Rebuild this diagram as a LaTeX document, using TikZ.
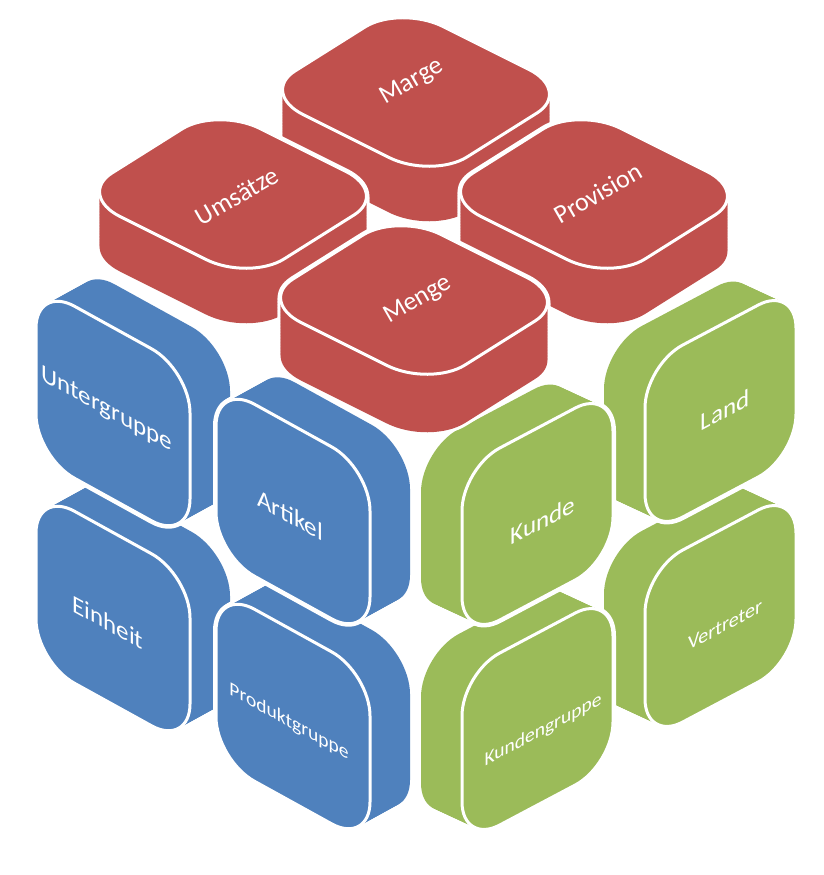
\documentclass[tikz,border=0pt]{standalone}
\usepackage{fontspec}
\setmainfont{Carlito}
\definecolor{cred}{HTML}{C0504D}
\definecolor{cblue}{HTML}{4F81BD}
\definecolor{cgreen}{HTML}{9BBB59}
\tikzset{
 rsq/.style={insert path={(0.25,0) -- (0.75,0) .. controls (0.888,0) and (1,0.112) .. (1,0.25) -- (1,0.75) .. controls (1,0.888) and (0.888,1) .. (0.75,1) -- (0.25,1) .. controls (0.112,1) and (0,0.888) .. (0,0.75) -- (0,0.25) .. controls (0,0.112) and (0.112,0) .. (0.25,0) -- cycle}},
 lbl/.style={text=white,font=\fontsize{25}{29}\selectfont,inner sep=0pt},
 blbl/.style={lbl,cm={1,-0.55,0,1,(0,0)}},
 glbl/.style={lbl,cm={1,0.53,0,1,(0,0)}},
 rlbl/.style={lbl,rotate=30,font=\fontsize{26}{30}\selectfont},
}
\newcommand\mytile[9]{%
 \foreach \i in {20,19,...,0}{\pgfmathsetmacro\t{\i/20}
  \begin{scope}[shift={({(#1+\t*(#7))*1pt},{-(#2+\t*(#8))*1pt})},x={(#3pt,-#4pt)},y={(#5pt,-#6pt)}]
   \draw[white,line width=6pt,line join=round,fill=white][rsq];
  \end{scope}}
 \foreach \i in {20,19,...,0}{\pgfmathsetmacro\t{\i/20}
  \begin{scope}[shift={({(#1+\t*(#7))*1pt},{-(#2+\t*(#8))*1pt})},x={(#3pt,-#4pt)},y={(#5pt,-#6pt)}]
   \fill[#9][rsq];
  \end{scope}}
 \begin{scope}[shift={({#1*1pt},{-#2*1pt})},x={(#3pt,-#4pt)},y={(#5pt,-#6pt)}]
  \draw[white,line width=3pt,fill=#9][rsq];
 \end{scope}}
\begin{document}
\begin{tikzpicture}[x=1pt,y=1pt]
\useasboundingbox (0,0) rectangle (824,-875);
% blue face
\mytile{36}{490}{154}{85}{0}{172}{40}{-22}{cblue}
\mytile{36}{285}{154}{85}{0}{172}{40}{-22}{cblue}
\mytile{216}{588}{154}{85}{0}{172}{40}{-22}{cblue}
\mytile{216}{383}{154}{85}{0}{172}{40}{-22}{cblue}
% green face
\mytile{645}{570}{151}{-80}{0}{172}{-41}{-19}{cgreen}
\mytile{645}{365}{151}{-80}{0}{172}{-41}{-19}{cgreen}
\mytile{462}{673}{151}{-80}{0}{172}{-41}{-19}{cgreen}
\mytile{462}{468}{151}{-80}{0}{172}{-41}{-19}{cgreen}
% red top
\mytile{260}{93}{140}{-88}{172}{86}{0}{55}{cred}
\mytile{77}{195}{140}{-88}{172}{86}{0}{55}{cred}
\mytile{438}{195}{140}{-88}{172}{86}{0}{55}{cred}
\mytile{258}{301}{140}{-88}{172}{86}{0}{58}{cred}
% labels
\node[rlbl] (marge) at (412,-82) {Marge};
\node[rlbl] (umsaetze) at (237,-196) {Umsätze};
\node[rlbl] (provision) at (598,-193) {Provision};
\node[rlbl] (menge) at (418,-300) {Menge};
\node[blbl] (untergruppe) at (107,-410) {Untergruppe};
\node[blbl] (artikel) at (290,-515) {Artikel};
\node[blbl] (einheit) at (108,-622) {Einheit};
\node[blbl,font=\fontsize{19.5}{23}\selectfont] (produktgruppe) at (289,-722) {Produktgruppe};
\node[glbl] (land) at (725,-410) {Land};
\node[glbl] (kunde) at (543,-520) {Kunde};
\node[glbl,font=\fontsize{20}{24}\selectfont] (vertreter) at (725,-625) {Vertreter};
\node[glbl,font=\fontsize{19.5}{23}\selectfont] (kundengruppe) at (543,-730) {Kundengruppe};
\end{tikzpicture}
\end{document}
